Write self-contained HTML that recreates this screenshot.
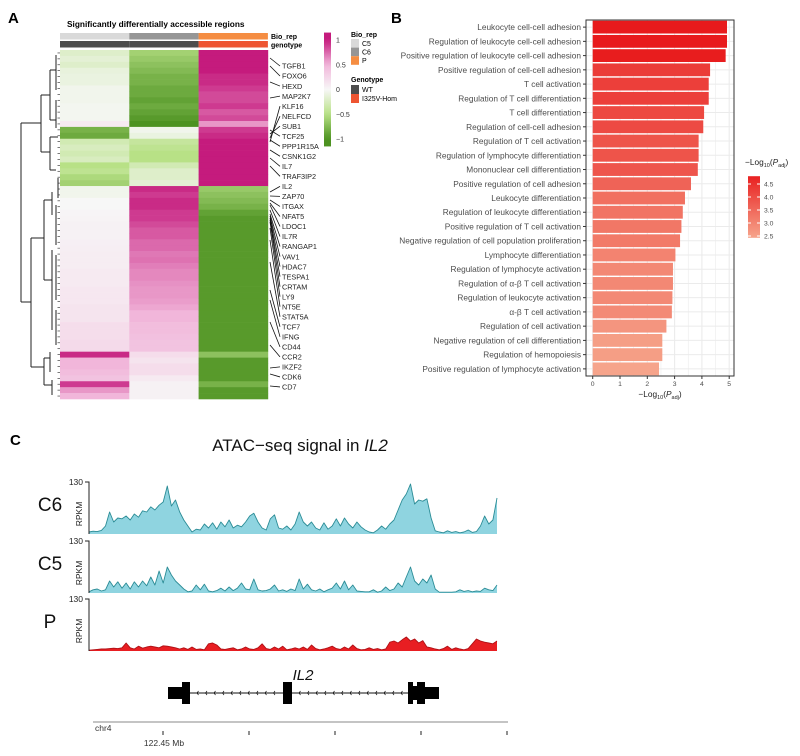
<!DOCTYPE html>
<html><head><meta charset="utf-8"><style>
body{margin:0;background:#fff;}
svg{display:block;font-family:"Liberation Sans",Arial,sans-serif;}
</style></head><body>
<svg id="fig" width="800" height="756" viewBox="0 0 800 756" xmlns="http://www.w3.org/2000/svg">
<text x="8" y="23" font-size="15" font-weight="bold">A</text>
<text x="391" y="23" font-size="15" font-weight="bold">B</text>
<text x="10" y="445" font-size="15" font-weight="bold">C</text>
<text x="67" y="27" font-size="8.3" font-weight="bold">Significantly differentially accessible regions</text>
<g id="heat"></g>
<g id="dendro" stroke="#222" stroke-width="1" fill="none"></g>
<g id="genes"></g>
<g id="hlegend"></g>
<g id="bars"></g>
<g id="tracks"></g>
</svg>
<script>
// ---------- Panel A data ----------
const sampleNames = ["C5","C6","P"];
const geneLabels = ["TGFB1","FOXO6","HEXD","MAP2K7","KLF16","NELFCD","SUB1","TCF25","PPP1R15A","CSNK1G2","IL7","TRAF3IP2","IL2","ZAP70","ITGAX","NFAT5","LDOC1","IL7R","RANGAP1","VAV1","HDAC7","TESPA1","CRTAM","LY9","NT5E","STAT5A","TCF7","IFNG","CD44","CCR2","IKZF2","CDK6","CD7"];
const colC5 = [-0.2,-0.15,-0.2,-0.12,-0.1,-0.1,-0.05,-0.05,-0.05,-0.03,-0.03,-0.03,0.1,
 -0.8,-0.85,
 -0.3,-0.25,-0.3,-0.25,-0.5,-0.45,-0.55,-0.6,
 -0.05,-0.05,
 0.0,0.0,0.02,0.03,0.05,0.05,0.05,0.06,0.07,0.08,0.08,0.08,0.1,0.1,0.1,0.12,0.12,0.12,0.15,0.15,0.15,0.2,0.2,0.2,0.22,0.22,
 0.95,0.5,0.5,0.45,0.4,
 0.9,0.6,0.5];
const colC6 = [-0.6,-0.65,-0.7,-0.75,-0.8,-0.8,-0.85,-0.85,-0.9,-0.85,-0.9,-0.95,-1.0,
 -0.05,-0.1,
 -0.4,-0.45,-0.5,-0.5,-0.3,-0.2,-0.2,-0.15,
 0.95,0.9,
 0.95,0.95,0.9,0.9,0.85,0.8,0.8,0.75,0.75,0.7,0.72,0.68,0.65,0.65,0.62,0.6,0.6,0.58,0.55,0.5,0.5,0.45,0.45,0.42,0.4,0.4,
 0.2,0.15,0.2,0.2,0.1,
 0.05,0.05,0.05];
const colP = [1.05,1.05,1.0,1.0,0.95,0.95,0.9,0.85,0.85,0.9,0.8,0.85,0.6,
 0.9,0.95,
 1.05,1.05,1.05,1.05,1.05,1.05,1.05,1.05,
 -0.65,-0.7,
 -0.75,-0.8,-0.9,-0.95,-0.95,-0.95,-0.95,-0.95,-0.95,-0.95,-0.95,-0.95,-0.95,-0.95,-0.95,-0.95,-0.95,-0.95,-0.95,-0.95,-0.95,-0.95,-0.95,-0.95,-0.95,-0.95,
 -0.7,-0.95,-0.95,-0.95,-0.95,
 -0.8,-0.95,-0.95];
const colorbarTicks = [1,0.5,0,-0.5,-1];
const colorbarTickLabels = ["1","0.5","0","\u22120.5","\u22121"];

// ---------- Panel B data ----------
const goTerms = ["Leukocyte cell-cell adhesion","Regulation of leukocyte cell-cell adhesion","Positive regulation of leukocyte cell-cell adhesion","Positive regulation of cell-cell adhesion","T cell activation","Regulation of T cell differentiation","T cell differentiation","Regulation of cell-cell adhesion","Regulation of T cell activation","Regulation of lymphocyte differentiation","Mononuclear cell differentiation","Positive regulation of cell adhesion","Leukocyte differentiation","Regulation of leukocyte differentiation","Positive regulation of T cell activation","Negative regulation of cell population proliferation","Lymphocyte differentiation","Regulation of lymphocyte activation","Regulation of \u03b1-\u03b2 T cell activation","Regulation of leukocyte activation","\u03b1-\u03b2 T cell activation","Regulation of cell activation","Negative regulation of cell differentiation","Regulation of hemopoiesis","Positive regulation of lymphocyte activation"];
const goValues = [4.92,4.92,4.87,4.3,4.25,4.25,4.08,4.05,3.88,3.88,3.85,3.6,3.38,3.3,3.25,3.2,3.03,2.94,2.94,2.92,2.9,2.7,2.55,2.55,2.43];
const xTicks = [0,1,2,3,4,5];
const legendTicks = [4.5,4.0,3.5,3.0,2.5];

// ---------- Panel C data ----------
const trackNames = ["C6","C5","P"];
const sigC6 = [5,7,6,9,20,55,30,40,38,45,35,50,42,58,55,68,60,72,80,120,70,85,55,35,20,5,12,10,25,15,28,12,30,18,35,15,22,18,30,45,52,30,15,10,38,48,15,12,20,10,25,55,30,20,30,15,10,28,12,20,38,20,40,25,15,30,18,10,5,3,10,20,12,25,35,60,85,100,125,75,85,82,88,40,8,5,3,8,4,6,3,5,10,4,6,20,45,25,35,90];
const sigC5 = [3,8,10,5,8,30,15,28,12,25,10,28,15,30,18,40,20,55,25,65,45,30,20,10,3,5,20,8,22,5,3,6,12,5,15,6,12,25,10,8,35,8,5,6,10,20,5,8,4,10,6,35,10,22,8,5,10,3,8,12,25,10,30,8,20,5,4,3,3,8,2,5,15,6,10,25,15,40,65,30,20,35,25,45,10,2,2,2,2,3,8,4,6,3,5,4,12,8,6,20];
const sigP = [2,3,4,5,5,6,7,6,8,20,8,5,12,7,10,12,10,8,13,12,10,8,5,8,4,10,4,5,3,18,20,15,5,4,6,8,3,5,10,5,4,8,18,6,4,10,5,12,3,5,8,5,10,4,15,6,3,5,8,12,6,4,10,5,15,6,3,4,8,4,6,3,5,22,25,20,28,35,25,30,20,26,10,8,5,3,6,12,4,8,5,3,6,18,30,25,22,20,18,25];
const trackMax = 130;

const NS="http://www.w3.org/2000/svg";
function mk(tag, attrs, parent){const e=document.createElementNS(NS,tag);for(const k in attrs)e.setAttribute(k,attrs[k]);parent.appendChild(e);return e;}

const piStops=[[-1,[77,146,33]],[-0.5,[184,225,134]],[0,[247,247,247]],[0.5,[241,182,218]],[1,[197,27,125]]];
function piyg(v){v=Math.max(-1,Math.min(1,v));for(let i=0;i<piStops.length-1;i++){const a=piStops[i],b=piStops[i+1];if(v<=b[0]){const t=(v-a[0])/(b[0]-a[0]);return "rgb("+a[1].map((c,j)=>Math.round(c+(b[1][j]-c)*t)).join(",")+")";}}return "rgb(197,27,125)";}

// ---------- Panel A ----------
const heat=document.getElementById('heat');
const hx0=60,hy0=50,hy1=399,colW=69.3;
const cols=[colC5,colC6,colP];
const nRows=colC5.length, rowH=(hy1-hy0)/nRows;
const yRow=i=>hy0+i*rowH;
cols.forEach((col,c)=>{col.forEach((v,r)=>{
  const rc=mk('rect',{x:hx0+c*colW,y:yRow(r),width:colW+0.3,height:rowH+0.3,fill:piyg(v)},heat);
  
  
});});
const bioCols=["#d9d9d9","#969696","#f58d42"], genoCols=["#4d4d4d","#4d4d4d","#ee5532"];
sampleNames.forEach((s,c)=>{
  const a=mk('rect',{x:hx0+c*colW,y:33,width:colW,height:6.5,fill:bioCols[c]},heat);
  
  
  const g=mk('rect',{x:hx0+c*colW,y:41,width:colW,height:6.5,fill:genoCols[c]},heat);
  
  
});
let t=mk('text',{x:271,y:39,'font-size':7,'font-weight':'bold'},heat);t.textContent="Bio_rep";

t=mk('text',{x:271,y:47.5,'font-size':7,'font-weight':'bold'},heat);t.textContent="genotype";


const dd=document.getElementById('dendro');
const dsegs=[[21,123,21,302],[21,123,41,123],[21,302,31,302],[41,95,41,152],[41,95,50,95],[41,152,50,152],[50,70,50,120],[50,70,56,70],[50,120,56,120],[50,137,50,170],[50,137,58,137],[50,170,56,170],[31,238,31,367],[31,238,44,238],[31,367,44,367],[44,200,44,280],[44,200,52,200],[44,280,52,280],[52,192,52,215],[52,250,52,330],[44,358,44,385],[44,358,50,358],[44,385,52,385],[50,352,50,372],[52,380,52,395],[56,55,56,90],[56,100,56,128],[58,178,58,198],[56,205,56,245],[56,255,56,300],[56,310,56,345]];
dsegs.forEach(s=>{const l=mk('line',{x1:s[0],y1:s[1],x2:s[2],y2:s[3]},dd);});
for(let r=0;r<nRows;r++){const l=mk('line',{x1:57.5,y1:yRow(r)+rowH/2,x2:60,y2:yRow(r)+rowH/2,'stroke-width':0.6},dd);}

const gl=document.getElementById('genes');
const gTarget=[58,66,82,98,142,138,134,130,140,150,158,166,192,196,200,203,205,210,214,216,218,220,222,228,240,262,290,300,322,345,368,374,386];
geneLabels.forEach((g,i)=>{
  const y=66+i*10.03;
  const l=mk('line',{x1:270,y1:gTarget[i],x2:280,y2:y,stroke:'#111','stroke-width':0.8},gl);
  
  const tx=mk('text',{x:282,y:y+2.7,'font-size':7.3,fill:'#222'},gl);tx.textContent=g;
  
});

const hl=document.getElementById('hlegend');
const defs=mk('defs',{},hl);
const lg=mk('linearGradient',{id:'piygGrad',x1:0,y1:0,x2:0,y2:1},defs);
for(let k=0;k<=20;k++){const v=1.15-2.3*k/20;mk('stop',{offset:(k/20),'stop-color':piyg(v)},lg);}
const cbY=v=>89.5-v*49.5;
let cb=mk('rect',{x:324,y:cbY(1.15),width:7,height:cbY(-1.15)-cbY(1.15),fill:'url(#piygGrad)'},hl);

colorbarTicks.forEach((v,i)=>{
  const tx=mk('text',{x:336,y:cbY(v)+2.5,'font-size':7,fill:'#333'},hl);tx.textContent=colorbarTickLabels[i];
  
});
t=mk('text',{x:351,y:37,'font-size':7,'font-weight':'bold'},hl);t.textContent="Bio_rep";

sampleNames.forEach((s,i)=>{
  const r=mk('rect',{x:351,y:39+i*8.6,width:8,height:8.6,fill:bioCols[i]},hl);
  
  const tx=mk('text',{x:362,y:46+i*8.6,'font-size':7},hl);tx.textContent=s;
  
});
t=mk('text',{x:351,y:82,'font-size':7,'font-weight':'bold'},hl);t.textContent="Genotype";

[["WT","#4d4d4d"],["I325V-Hom","#ee5532"]].forEach((e,i)=>{
  const r=mk('rect',{x:351,y:85+i*9,width:8,height:9,fill:e[1]},hl);
  
  const tx=mk('text',{x:362,y:92+i*9,'font-size':7},hl);tx.textContent=e[0];
  
});

// ---------- Panel B ----------
const bg=document.getElementById('bars');
const px0=586,px1=734,py0=20,py1=376;
const xS=v=>592.7+v*27.3;
const bandStep=(py1-py0)/goTerms.length;
const yB=i=>py0+bandStep*(i+0.5);
mk('rect',{x:px0,y:py0,width:px1-px0,height:py1-py0,fill:'#fff'},bg);
for(let v=0;v<=5;v+=0.5){const l=mk('line',{x1:xS(v),y1:py0,x2:xS(v),y2:py1,stroke:'#ebebeb','stroke-width':v%1===0?1.1:0.6},bg);}
goTerms.forEach((g,i)=>{const l=mk('line',{x1:px0,y1:yB(i),x2:px1,y2:yB(i),stroke:'#ebebeb','stroke-width':1},bg);});
const cLo=[246,166,140],cHi=[232,26,28],vLo=2.4,vHi=4.92;
function redScale(v){const tt=Math.max(0,Math.min(1,(v-vLo)/(vHi-vLo)));return "rgb("+cLo.map((c,j)=>Math.round(c+(cHi[j]-c)*tt)).join(",")+")";}
goTerms.forEach((g,i)=>{
  const v=goValues[i];
  const r=mk('rect',{x:xS(0),y:yB(i)-bandStep*0.45,width:xS(v)-xS(0),height:bandStep*0.9,fill:redScale(v)},bg);
  
  mk('line',{x1:px0-3,y1:yB(i),x2:px0,y2:yB(i),stroke:'#333','stroke-width':1},bg);
  const tx=mk('text',{x:px0-5,y:yB(i)+3,'font-size':8.3,fill:'#4d4d4d','text-anchor':'end'},bg);tx.textContent=g;
  
});
let fr=mk('rect',{x:px0,y:py0,width:px1-px0,height:py1-py0,fill:'none',stroke:'#333','stroke-width':1},bg);

xTicks.forEach(v=>{
  mk('line',{x1:xS(v),y1:py1,x2:xS(v),y2:py1+3,stroke:'#333'},bg);
  const tx=mk('text',{x:xS(v),y:py1+10,'font-size':6.8,fill:'#4d4d4d','text-anchor':'middle'},bg);tx.textContent=v;
  
});
t=mk('text',{x:660,y:397,'font-size':8.3,fill:'#222','text-anchor':'middle'},bg);
t.innerHTML='\u2212Log<tspan font-size="5.5" dy="2">10</tspan><tspan dy="-2">(</tspan><tspan font-style="italic">P</tspan><tspan font-size="5.5" dy="2">adj</tspan><tspan dy="-2">)</tspan>';

const lg2=mk('linearGradient',{id:'redGrad',x1:0,y1:0,x2:0,y2:1},defs);
const lgY=v=>184-(v-4.5)*26;
const lgTop=lgY(4.8),lgBot=lgY(2.43);
for(let k=0;k<=10;k++){const v=4.8-(4.8-2.43)*k/10;mk('stop',{offset:k/10,'stop-color':redScale(v)},lg2);}
cb=mk('rect',{x:748,y:lgTop,width:12,height:lgBot-lgTop,fill:'url(#redGrad)'},bg);

t=mk('text',{x:745,y:165,'font-size':8.3,fill:'#222'},bg);
t.innerHTML='\u2212Log<tspan font-size="5.5" dy="2">10</tspan><tspan dy="-2">(</tspan><tspan font-style="italic">P</tspan><tspan font-size="5.5" dy="2">adj</tspan><tspan dy="-2">)</tspan>';

legendTicks.forEach(v=>{
  mk('line',{x1:748,y1:lgY(v),x2:751,y2:lgY(v),stroke:'#fff'},bg);
  mk('line',{x1:757,y1:lgY(v),x2:760,y2:lgY(v),stroke:'#fff'},bg);
  const tx=mk('text',{x:764,y:lgY(v)+2.5,'font-size':6.8,fill:'#4d4d4d'},bg);tx.textContent=v.toFixed(1);
  
});

// ---------- Panel C ----------
const tg=document.getElementById('tracks');
t=mk('text',{x:300,y:451,'font-size':17,fill:'#111','text-anchor':'middle'},tg);
t.innerHTML='ATAC\u2212seq signal in <tspan font-style="italic">IL2</tspan>';

const tx0=89,tx1=497;
const tracks=[{d:sigC6,top:482,base:534,fill:'#8fd4e0',stroke:'#2b8c96'},{d:sigC5,top:541,base:593,fill:'#8fd4e0',stroke:'#2b8c96'},{d:sigP,top:599,base:651,fill:'#e81e22',stroke:'#b01015'}];
tracks.forEach((tr,k)=>{
  const n=tr.d.length;
  const xv=i=>tx0+(tx1-tx0)*i/(n-1);
  const yv=v=>tr.base-(v/trackMax)*(tr.base-tr.top);
  let line='';tr.d.forEach((v,i)=>{line+=(i?'L':'M')+xv(i).toFixed(1)+','+yv(v).toFixed(1);});
  const area=mk('path',{d:line+'L'+tx1+','+tr.base+'L'+tx0+','+tr.base+'Z',fill:tr.fill},tg);
  
  const ln=mk('path',{d:line,fill:'none',stroke:tr.stroke,'stroke-width':0.9,'stroke-linejoin':'round'},tg);
  
  const ax=mk('path',{d:'M85,'+tr.top+'H89V'+tr.base,fill:'none',stroke:'#222','stroke-width':1},tg);
  
  const mx=mk('text',{x:83,y:tr.top+3,'font-size':8.5,fill:'#222','text-anchor':'end'},tg);mx.textContent=trackMax;
  
  const rp=mk('text',{x:0,y:0,'font-size':8.5,fill:'#222','text-anchor':'middle',transform:'translate(82,'+((tr.top+tr.base)/2+6)+') rotate(-90)'},tg);rp.textContent='RPKM';
  
  const nm=mk('text',{x:50,y:(tr.top+tr.base)/2+3,'font-size':19,fill:'#111','text-anchor':'middle'},tg);nm.textContent=trackNames[k];
  
});
t=mk('text',{x:303,y:680,'font-size':15,'font-style':'italic','text-anchor':'middle',fill:'#111'},tg);t.textContent='IL2';

const gm=mk('g',{},tg);
mk('line',{x1:189,y1:693,x2:410,y2:693,stroke:'#111','stroke-width':1},gm);
for(let x=197;x<405;x+=8.5){if(x>280&&x<295)continue;mk('path',{d:'M'+(x+1.5)+',691 L'+x+',693 L'+(x+1.5)+',695',stroke:'#111','stroke-width':0.7,fill:'none'},gm);}
[[168,687,21,12],[182,682,8,22],[283,682,9,22],[408,682,5,22],[413,686,4,14],[417,682,8,22],[425,687,14,12]].forEach(b=>mk('rect',{x:b[0],y:b[1],width:b[2],height:b[3],fill:'#000'},gm));
const ga=mk('g',{},tg);
mk('line',{x1:93,y1:722,x2:508,y2:722,stroke:'#888','stroke-width':1},ga);
[163,249,335,421,507].forEach(x=>mk('line',{x1:x,y1:731,x2:x,y2:735,stroke:'#222','stroke-width':1},ga));
t=mk('text',{x:95,y:731,'font-size':8.5,fill:'#333'},ga);t.textContent='chr4';

t=mk('text',{x:164,y:746,'font-size':8.5,fill:'#333','text-anchor':'middle'},ga);t.textContent='122.45 Mb';

</script>
</body></html>
